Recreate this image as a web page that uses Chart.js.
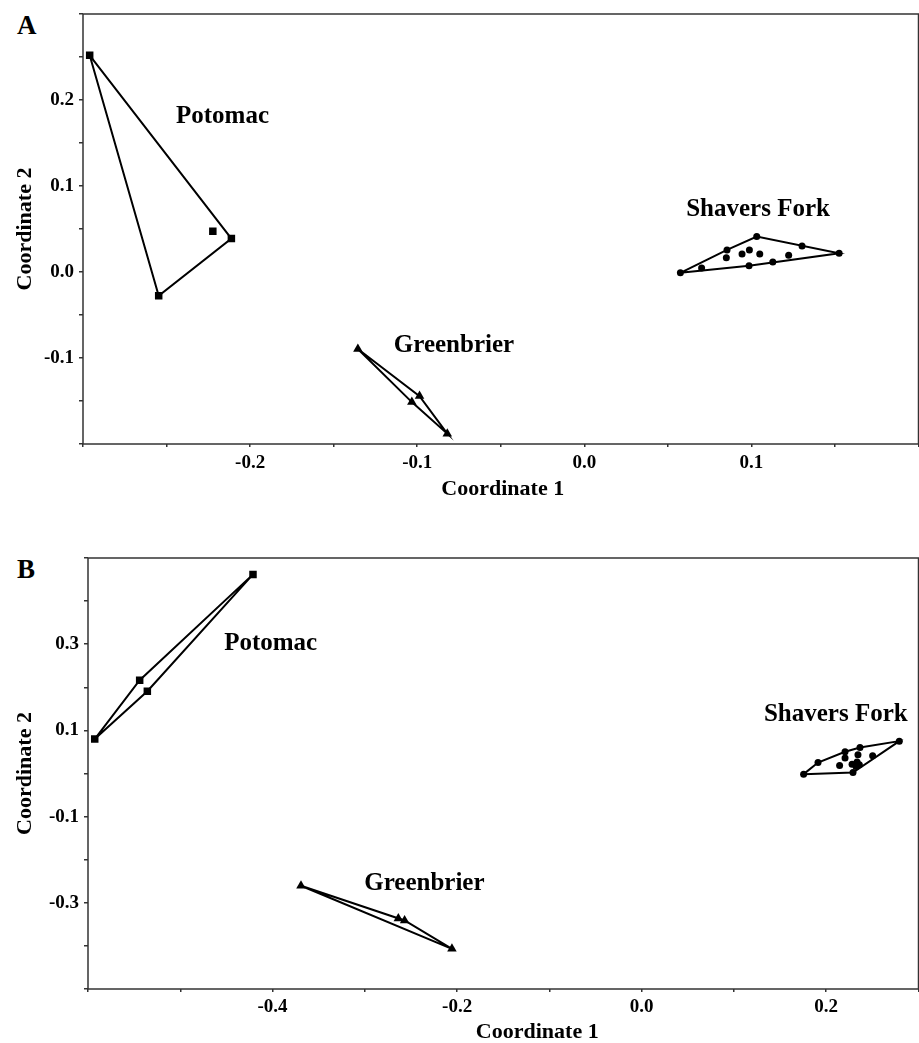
<!DOCTYPE html>
<html>
<head>
<meta charset="utf-8">
<script src="https://cdn.jsdelivr.net/npm/chart.js@4/dist/chart.umd.min.js"></script>
<style>
  body { margin: 0; background: #fff; overflow: hidden; width: 919px; height: 1043px; }
  .wrap { position: absolute; left: 0; }
  .letter { position: absolute; font: bold 27px "Liberation Serif", serif; color: #000; }
</style>
</head>
<body>
<div class="letter" style="left:17px; top:10px;">A</div>
<div class="letter" style="left:17px; top:554px;">B</div>
<div class="wrap" style="top:0;"><canvas id="chartA" width="924" height="510"></canvas></div>
<div class="wrap" style="top:535px;"><canvas id="chartB" width="924" height="508"></canvas></div>
<script>
// Panel A - MDS coordinates
const potomacA = [[-0.296, 0.252], [-0.2547, -0.0277], [-0.2112, 0.0389], [-0.2223, 0.0475]];
const greenbrierA = [[-0.1355, -0.0895], [-0.0986, -0.1443], [-0.1032, -0.1513], [-0.082, -0.188]];
const shaversA = [
  [0.0575, -0.001], [0.0702, 0.0047], [0.0986, 0.0074], [0.1128, 0.0117], [0.1525, 0.0218],
  [0.1303, 0.0303], [0.1032, 0.0412], [0.0854, 0.0257], [0.085, 0.0167], [0.0944, 0.021],
  [0.0988, 0.0257], [0.105, 0.021], [0.1223, 0.0195]
];
const xLabelsA = [-0.2, -0.1, 0.0, 0.1];
const yLabelsA = [-0.1, 0.0, 0.1, 0.2];

// Panel B
const potomacB = [[-0.4212, 0.462], [-0.544, 0.2164], [-0.5357, 0.1908], [-0.5927, 0.08]];
const greenbrierB = [[-0.3692, -0.2605], [-0.2637, -0.3365], [-0.2569, -0.3411], [-0.2056, -0.4069]];
const shaversB = [
  [0.1755, -0.0015], [0.229, 0.0022], [0.2503, 0.041], [0.2792, 0.0751], [0.2366, 0.0603],
  [0.2204, 0.0503], [0.1911, 0.0254], [0.2204, 0.0357], [0.2344, 0.0433], [0.2145, 0.0185],
  [0.228, 0.0217], [0.2334, 0.0264], [0.2323, 0.0162], [0.2359, 0.0201]
];
const xLabelsB = [-0.4, -0.2, 0.0, 0.2];
const yLabelsB = [-0.3, -0.1, 0.1, 0.3];

const groupNames = ['Potomac', 'Greenbrier', 'Shavers Fork'];

const FONT = '"Liberation Serif", "Times New Roman", serif';

// convex hull (monotone chain), returned closed
function hull(pts) {
  const p = pts.slice().sort((a, b) => a[0] - b[0] || a[1] - b[1]);
  const cross = (o, a, b) => (a[0] - o[0]) * (b[1] - o[1]) - (a[1] - o[1]) * (b[0] - o[0]);
  const lower = [], upper = [];
  for (const q of p) {
    while (lower.length >= 2 && cross(lower[lower.length - 2], lower[lower.length - 1], q) <= 0) lower.pop();
    lower.push(q);
  }
  for (let i = p.length - 1; i >= 0; i--) {
    const q = p[i];
    while (upper.length >= 2 && cross(upper[upper.length - 2], upper[upper.length - 1], q) <= 0) upper.pop();
    upper.push(q);
  }
  upper.pop(); lower.pop();
  const h = lower.concat(upper);
  h.push(h[0]);
  return h.map(d => ({x: d[0], y: d[1]}));
}

function toXY(arr) {
  return arr.map(d => ({x: d[0], y: d[1]}));
}

// frame around the plot, group names and x axis title
const framePlugin = {
  id: 'frame',
  afterDraw(chart, args, opts) {
    const {ctx, chartArea: a, scales} = chart;
    ctx.save();
    ctx.strokeStyle = '#333';
    ctx.lineWidth = 1.5;
    ctx.strokeRect(a.left, a.top, a.right - a.left, a.bottom - a.top);
    ctx.fillStyle = '#000';
    ctx.textAlign = 'center';
    ctx.textBaseline = 'middle';
    ctx.font = 'bold 25px ' + FONT;
    opts.labels.forEach((lab, i) => {
      ctx.fillText(groupNames[i], scales.x.getPixelForValue(lab[0]), scales.y.getPixelForValue(lab[1]));
    });
    ctx.font = 'bold 22px ' + FONT;
    ctx.fillText('Coordinate 1', (a.left + a.right) / 2 + opts.titleShift, a.bottom + opts.titleDrop);
    ctx.restore();
  }
};

function fmt(v) {
  const r = Math.round(v * 100) / 100;
  return (Math.abs(r) < 1e-9 ? 0 : r).toFixed(1);
}

function makeChart(id, groups, cfg) {
  const styles = [
    {pointStyle: 'rect', radius: 5.3},
    {pointStyle: 'triangle', radius: 5.5},
    {pointStyle: 'circle', radius: 3.5}
  ];
  const datasets = [];
  groups.forEach((g, i) => {
    datasets.push({
      type: 'line',
      data: hull(g),
      borderColor: '#000',
      borderWidth: 2,
      pointRadius: 0,
      fill: false,
      tension: 0
    });
    datasets.push({
      type: 'scatter',
      data: toXY(g),
      pointStyle: styles[i].pointStyle,
      pointRadius: styles[i].radius,
      backgroundColor: '#000',
      borderColor: '#000',
      borderWidth: 0
    });
  });

  const tickFont = {family: FONT, size: 19, weight: 'bold'};
  const titleFont = {family: FONT, size: 22, weight: 'bold', lineHeight: 1};

  return new Chart(document.getElementById(id), {
    type: 'scatter',
    data: {datasets: datasets},
    options: {
      responsive: false,
      animation: false,
      layout: {padding: {top: cfg.padTop, right: 0, left: 0, bottom: 0}},
      plugins: {
        legend: {display: false},
        tooltip: {enabled: false},
        frame: {labels: cfg.labels, titleShift: cfg.titleShift, titleDrop: cfg.titleDrop}
      },
      scales: {
        x: {
          type: 'linear',
          min: cfg.xMin, max: cfg.xMax,
          afterFit: s => { s.height = cfg.xHeight; s.paddingLeft = 0; s.paddingRight = 0; },
          border: {display: false},
          grid: {drawOnChartArea: false, drawTicks: true, tickLength: 3, color: '#333', lineWidth: 1.5},
          ticks: {
            stepSize: cfg.xStep, autoSkip: false, maxRotation: 0, color: '#000', font: tickFont, padding: cfg.xTickPad,
            callback: v => cfg.xLabels.some(t => Math.abs(t - v) < 1e-6) ? fmt(v) : ''
          }
        },
        y: {
          type: 'linear',
          min: cfg.yMin, max: cfg.yMax,
          afterFit: s => { s.width = cfg.yWidth; s.paddingTop = 0; s.paddingBottom = 0; },
          border: {display: false},
          grid: {drawOnChartArea: false, drawTicks: true, tickLength: 4, color: '#333', lineWidth: 1.5},
          ticks: {
            stepSize: cfg.yStep, autoSkip: false, color: '#000', font: tickFont, padding: 5,
            callback: v => cfg.yLabels.some(t => Math.abs(t - v) < 1e-6) ? fmt(v) : ''
          },
          title: {display: true, text: 'Coordinate 2', color: '#000', font: titleFont, padding: {top: 14, bottom: 0}}
        }
      }
    },
    plugins: [framePlugin]
  });
}

makeChart('chartA', [potomacA, greenbrierA, shaversA], {
  xMin: -0.3, xMax: 0.2, xStep: 0.05, yMin: -0.2, yMax: 0.3, yStep: 0.05,
  xLabels: xLabelsA, yLabels: yLabelsA,
  padTop: 14, xHeight: 66, yWidth: 83, xTickPad: 5, titleShift: 2, titleDrop: 45,
  labels: [[-0.2165, 0.1812], [-0.078, -0.086], [0.104, 0.0723]]
});

makeChart('chartB', [potomacB, greenbrierB, shaversB], {
  xMin: -0.6, xMax: 0.3, xStep: 0.1, yMin: -0.5, yMax: 0.5, yStep: 0.1,
  xLabels: xLabelsB, yLabels: yLabelsB,
  padTop: 23, xHeight: 54, yWidth: 88, xTickPad: 4, titleShift: 34, titleDrop: 43,
  labels: [[-0.402, 0.3016], [-0.2355, -0.2545], [0.2104, 0.1362]]
});
</script>
</body>
</html>
